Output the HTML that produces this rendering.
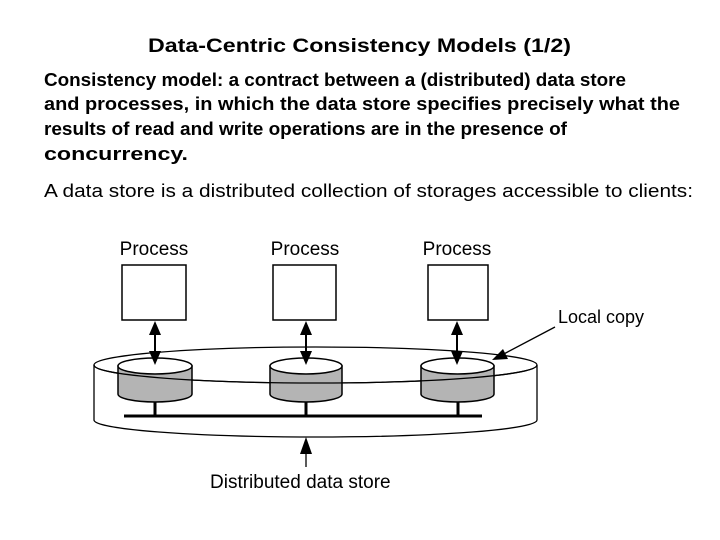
<!DOCTYPE html>
<html><head><meta charset="utf-8"><style>
html,body{margin:0;padding:0;background:#fff;}
svg{display:block;}
text{font-family:"Liberation Sans",Arial,sans-serif;fill:#000;}
</style></head><body>
<svg width="720" height="540" viewBox="0 0 720 540" xmlns="http://www.w3.org/2000/svg">
<defs>
<marker id="ah" markerWidth="10" markerHeight="14" refX="9" refY="5" orient="auto" markerUnits="userSpaceOnUse" viewBox="0 0 10 10"><path d="M0,0 L10,5 L0,10 z" fill="#000"/></marker>
</defs>
<text x="148" y="52" font-size="19" font-weight="bold" textLength="423" lengthAdjust="spacingAndGlyphs">Data-Centric Consistency Models (1/2)</text>
<g font-size="18" font-weight="bold">
<text x="44" y="86" textLength="582" lengthAdjust="spacingAndGlyphs">Consistency model: a contract between a (distributed) data store</text>
<text x="44" y="110" textLength="636" lengthAdjust="spacingAndGlyphs">and processes, in which the data store specifies precisely what the</text>
<text x="44" y="135" textLength="523" lengthAdjust="spacingAndGlyphs">results of read and write operations are in the presence of</text>
<text x="44" y="160" textLength="144" lengthAdjust="spacingAndGlyphs">concurrency.</text>
</g>
<text x="44" y="197" font-size="18" textLength="649" lengthAdjust="spacingAndGlyphs">A data store is a distributed collection of storages accessible to clients:</text>

<g font-size="19">
<text x="154" y="255" text-anchor="middle">Process</text>
<text x="305" y="255" text-anchor="middle">Process</text>
<text x="457" y="255" text-anchor="middle">Process</text>
<text x="558" y="323" font-size="18">Local copy</text>
<text x="210" y="488" font-size="19">Distributed data store</text>
</g>

<g fill="#fff" stroke="#000" stroke-width="1.5">
<rect x="122" y="265" width="64" height="55"/>
<rect x="273" y="265" width="63" height="55"/>
<rect x="428" y="265" width="60" height="55"/>
</g>

<!-- big cylinder -->
<g fill="none" stroke="#000" stroke-width="1.3">
<ellipse cx="315.5" cy="365" rx="221.5" ry="18"/>
<line x1="94" y1="365" x2="94" y2="420"/>
<line x1="537" y1="365" x2="537" y2="420"/>
<path d="M94,420 A221.5,17 0 0 0 537,420"/>
</g>

<!-- small cylinders -->
<g stroke="#000" stroke-width="1.5">
<path d="M118,366 L118,394 A37,8 0 0 0 192,394 L192,366 z" fill="#b4b4b4"/>
<ellipse cx="155" cy="366" rx="37" ry="8" fill="#fff"/>
<path d="M270,366 L270,394 A36,8 0 0 0 342,394 L342,366 z" fill="#b4b4b4"/>
<ellipse cx="306" cy="366" rx="36" ry="8" fill="#fff"/>
<path d="M421,366 L421,394 A36.5,8 0 0 0 494,394 L494,366 z" fill="#b4b4b4"/>
<ellipse cx="457.5" cy="366" rx="36.5" ry="8" fill="#fff"/>
</g>
<!-- front arc of big top ellipse over cylinders -->
<path d="M94,365 A221.5,18 0 0 0 537,365" fill="none" stroke="#000" stroke-width="1.3"/>

<!-- bus -->
<g stroke="#000">
<line x1="124" y1="416" x2="482" y2="416" stroke-width="3"/>
<line x1="155" y1="402" x2="155" y2="416" stroke-width="3"/>
<line x1="306" y1="402" x2="306" y2="416" stroke-width="3"/>
<line x1="458" y1="402" x2="458" y2="416" stroke-width="3"/>
</g>

<!-- arrows -->
<g stroke="#000" stroke-width="2">
<line x1="155" y1="332" x2="155" y2="354"/>
<path d="M155,321 L149,335 L161,335 z M155,365 L149,351 L161,351 z" fill="#000" stroke="none"/>
<line x1="306" y1="332" x2="306" y2="354"/>
<path d="M306,321 L300,335 L312,335 z M306,365 L300,351 L312,351 z" fill="#000" stroke="none"/>
<line x1="457" y1="332" x2="457" y2="354"/>
<path d="M457,321 L451,335 L463,335 z M457,365 L451,351 L463,351 z" fill="#000" stroke="none"/>
</g>
<line x1="306" y1="467" x2="306" y2="448" stroke="#000" stroke-width="1.3"/>
<path d="M306,437 L300,454 L312,454 z" fill="#000"/>
<line x1="555" y1="327" x2="500" y2="356" stroke="#000" stroke-width="1.3"/>
<path d="M492,360 L503,349 L508,359 z" fill="#000"/>
</svg>
</body></html>
